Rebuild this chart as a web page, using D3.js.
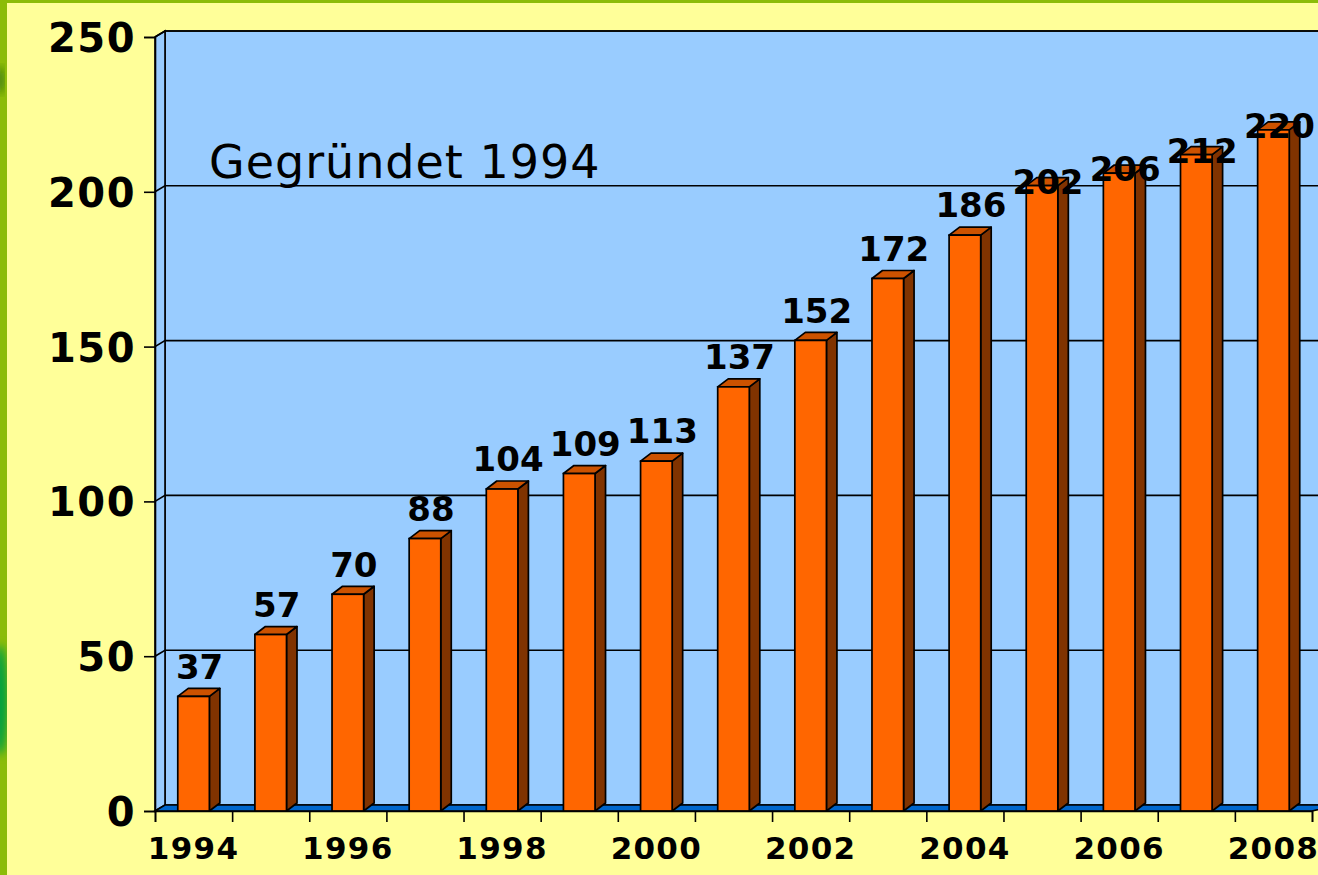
<!DOCTYPE html>
<html>
<head>
<meta charset="utf-8">
<script src="https://cdn.jsdelivr.net/npm/d3@7"></script>
<style>
  html, body { margin: 0; padding: 0; background: #FFFF99; }
  svg { display: block; }
</style>
</head>
<body>
<svg id="chart" width="1318" height="875"></svg>
<script>
// ---- data ----
const years = [1994, 1995, 1996, 1997, 1998, 1999, 2000, 2001, 2002, 2003, 2004, 2005, 2006, 2007, 2008];
const members = [37, 57, 70, 88, 104, 109, 113, 137, 152, 172, 186, 202, 206, 212, 220];
const yTicks = [0, 50, 100, 150, 200, 250];
const titleText = "Gegründet 1994";

(function () {
// ---- layout ----
const W = 1318, H = 875;
const pLeft = 155, pRight = 1312, pTop = 37, pBottom = 811;
const wallDx = 10, wallDy = -6;   // depth of back wall
const barDx = 10.5, barDy = -8;   // depth of bars
const font = "'DejaVu Sans', Verdana, sans-serif";

const svg = d3.select("#chart");

// background / frame
svg.append("rect").attr("width", W).attr("height", H).attr("fill", "#8CBC08");
const defs = svg.append("defs");
defs.append("filter").attr("id", "blur").append("feGaussianBlur").attr("stdDeviation", 4);
svg.append("ellipse").attr("cx", 0).attr("cy", 700).attr("rx", 8).attr("ry", 55)
  .attr("fill", "#00A040").attr("filter", "url(#blur)");
svg.append("ellipse").attr("cx", 0).attr("cy", 80).attr("rx", 4).attr("ry", 14)
  .attr("fill", "#3a7a10").attr("filter", "url(#blur)");
svg.append("rect").attr("x", 7).attr("y", 3).attr("width", W - 7).attr("height", H - 3).attr("fill", "#FFFF99");

// scales
const x = d3.scaleBand().domain(years).range([pLeft, pRight]).padding(0);
const xb = d3.scaleLinear().domain([0, years.length]).range([pLeft, pRight]);
const y = d3.scaleLinear().domain([0, 250]).range([pBottom, pTop]);

const g = svg.append("g");

// back wall
g.append("rect")
  .attr("x", pLeft + wallDx).attr("y", y(250) + wallDy)
  .attr("width", W - pLeft).attr("height", y(0) - y(250))
  .attr("fill", "#99CCFF").attr("stroke", "#000").attr("stroke-width", 1.6);

// left side wall
g.append("path")
  .attr("d", `M${pLeft},${y(0)} L${pLeft},${y(250)} L${pLeft + wallDx},${y(250) + wallDy} L${pLeft + wallDx},${y(0) + wallDy} Z`)
  .attr("fill", "#99CCFF").attr("stroke", "#000").attr("stroke-width", 1.6);

// gridlines (back wall + slant on side wall)
const grid = g.append("g");
yTicks.filter(t => t > 0).forEach(t => {
  grid.append("path")
    .attr("d", `M${pLeft},${y(t)} L${pLeft + wallDx},${y(t) + wallDy} L${W + 5},${y(t) + wallDy}`)
    .attr("fill", "none").attr("stroke", "#000").attr("stroke-width", 1.6);
});

// floor
g.append("path")
  .attr("d", `M${pLeft},${y(0)} L${pLeft + wallDx},${y(0) + wallDy} L${W + 20},${y(0) + wallDy} L${pRight},${y(0)} Z`)
  .attr("fill", "#0066CC").attr("stroke", "#000").attr("stroke-width", 1.6);

// bars
const bw = 31.6;
const rows = years.map((yr, i) => ({ yr, v: members[i] }));
const bars = g.append("g").selectAll("g").data(rows).join("g");
bars.each(function (d) {
  const sel = d3.select(this);
  const x0 = x(d.yr) + x.bandwidth() / 2 - bw / 2, x1 = x0 + bw;
  const yt = y(d.v), yb = y(0);
  sel.append("path")
    .attr("d", `M${x1},${yb} L${x1},${yt} L${x1 + barDx},${yt + barDy} L${x1 + barDx},${yb + barDy} Z`)
    .attr("fill", "#803300").attr("stroke", "#000").attr("stroke-width", 1.7).attr("stroke-linejoin", "round");
  sel.append("path")
    .attr("d", `M${x0},${yt} L${x0 + barDx},${yt + barDy} L${x1 + barDx},${yt + barDy} L${x1},${yt} Z`)
    .attr("fill", "#CC5200").attr("stroke", "#000").attr("stroke-width", 1.7).attr("stroke-linejoin", "round");
  sel.append("rect")
    .attr("x", x0).attr("y", yt).attr("width", bw).attr("height", yb - yt)
    .attr("fill", "#FF6600").attr("stroke", "#000").attr("stroke-width", 1.7);
});

// value labels
g.append("g").selectAll("text").data(rows).join("text")
  .attr("x", d => x(d.yr) + x.bandwidth() / 2 + 6)
  .attr("y", d => y(d.v) + (d.v >= 200 ? -4 : -30))
  .attr("dy", "0.36em")
  .attr("text-anchor", "middle")
  .attr("font-family", font).attr("font-weight", "bold").attr("font-size", 34)
  .attr("fill", "#000")
  .text(d => d.v);

// title text
g.append("text")
  .attr("x", 209).attr("y", 178)
  .attr("font-family", font).attr("font-size", 46).attr("letter-spacing", 1).attr("fill", "#000")
  .text(titleText);

// y axis
const yAxis = svg.append("g").attr("transform", `translate(${pLeft},0)`)
  .call(d3.axisLeft(y).tickValues(yTicks).tickSize(11).tickPadding(8));
yAxis.select(".domain").attr("stroke", "#000").attr("stroke-width", 1.6);
yAxis.selectAll(".tick line").attr("stroke", "#000").attr("stroke-width", 1.6);
yAxis.selectAll(".tick text")
  .attr("font-family", font).attr("font-weight", "bold").attr("font-size", 40).attr("fill", "#000")
  .attr("letter-spacing", 1.5)
  .attr("dy", "0.36em");

// x axis: boundary ticks
const xTickAxis = svg.append("g").attr("transform", `translate(0,${pBottom})`)
  .call(d3.axisBottom(xb).tickValues(d3.range(years.length + 1)).tickSize(11).tickFormat(""));
xTickAxis.select(".domain").attr("stroke", "#000").attr("stroke-width", 1.6);
xTickAxis.selectAll(".tick line").attr("stroke", "#000").attr("stroke-width", 1.6);

// x axis: labels at band centres, every second year
const xLabelAxis = svg.append("g").attr("transform", `translate(0,${pBottom})`)
  .call(d3.axisBottom(x).tickSize(0).tickPadding(0).tickFormat(d => (d - years[0]) % 2 === 0 ? d : ""));
xLabelAxis.select(".domain").remove();
xLabelAxis.selectAll(".tick text")
  .attr("font-family", font).attr("font-weight", "bold").attr("font-size", 31).attr("fill", "#000")
  .attr("letter-spacing", 1.3)
  .attr("y", 48).attr("dy", 0);
})();
</script>
</body>
</html>
